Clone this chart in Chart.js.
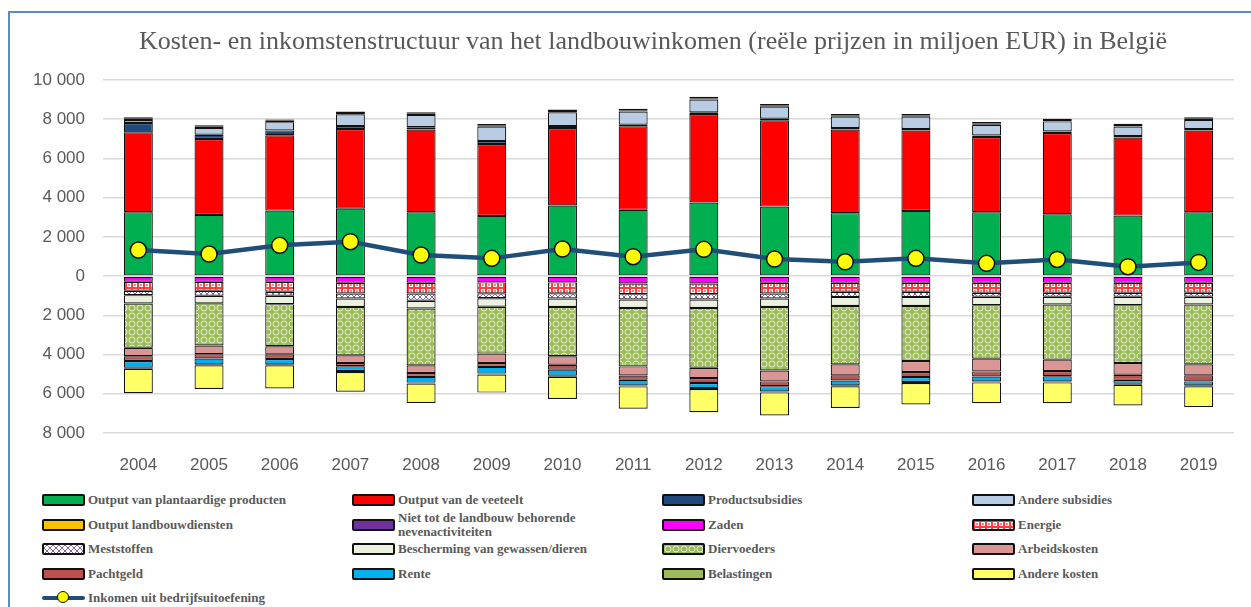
<!DOCTYPE html>
<html>
<head>
<meta charset="utf-8">
<script src="https://cdn.jsdelivr.net/npm/chart.js@4.4.1/dist/chart.umd.min.js"></script>
<style>
  html, body { margin: 0; padding: 0; background: #fff; overflow: hidden; }
  #frame { position: absolute; left: 8px; top: 11px; width: 1300px; height: 700px; border: 2px solid #5b8ac6; box-sizing: border-box; }
  #wrap { position: absolute; left: 0; top: 0; width: 1251px; height: 480px; }
  #legend { position: absolute; left: 42px; top: 488px; display: grid; grid-template-columns: 310px 310px 310px 310px; grid-auto-rows: 24.5px; align-items: center; font: bold 13px "Liberation Serif", "Times New Roman", serif; color: #595959; }
  .item { display: flex; align-items: center; }
  .sw { width: 43px; height: 12px; border: 2px solid #111; box-sizing: border-box; margin-right: 3px; flex: none; border-radius: 2px; }
  .txt { line-height: 14px; max-width: 250px; }
  .lsw { width: 43px; height: 14px; margin-right: 3px; flex: none; position: relative; }
  .lsw .ln { position: absolute; left: 0; right: 0; top: 5px; height: 4px; background: #1f4e79; border-radius: 2px; }
  .lsw .dot { position: absolute; left: 15px; top: 0; width: 10px; height: 10px; border: 1.5px solid #111; border-radius: 50%; background: #ffff00; }
</style>
</head>
<body>
<div id="frame"></div>
<div id="wrap"><canvas id="chart" width="1251" height="480"></canvas></div>
<div id="legend"></div>
<script>
const years = ['2004', '2005', '2006', '2007', '2008', '2009', '2010', '2011', '2012', '2013', '2014', '2015', '2016', '2017', '2018', '2019'];

// opbrengsten (boven nul)
const plantaardig = [3260, 3120, 3340, 3440, 3260, 3070, 3600, 3380, 3750, 3545, 3210, 3325, 3260, 3155, 3085, 3260];
const veeteelt = [4070, 3870, 3840, 4060, 4210, 3670, 3950, 4260, 4520, 4405, 4260, 4095, 3830, 4145, 3985, 4160];
const productsubsidies = [480, 220, 250, 150, 120, 150, 100, 80, 80, 80, 80, 80, 80, 80, 80, 80];
const andereSubsidies = [150, 340, 420, 600, 620, 730, 700, 670, 650, 610, 580, 630, 550, 510, 480, 460];
const landbouwdiensten = [70, 70, 70, 70, 70, 70, 70, 70, 70, 70, 70, 70, 70, 70, 70, 70];
const nevenactiviteiten = [70, 70, 70, 70, 70, 70, 70, 70, 70, 70, 70, 70, 70, 70, 70, 70];

// kosten (onder nul)
const zaden = [-290, -290, -290, -340, -340, -320, -320, -375, -375, -340, -340, -340, -340, -340, -340, -340];
const energie = [-460, -460, -510, -550, -550, -560, -560, -545, -545, -550, -460, -460, -510, -510, -510, -510];
const meststoffen = [-220, -250, -200, -250, -370, -250, -260, -275, -275, -250, -260, -260, -200, -200, -200, -200];
const bescherming = [-430, -390, -430, -430, -390, -430, -430, -425, -425, -430, -460, -460, -430, -400, -430, -400];
const diervoeders = [-2250, -2150, -2150, -2470, -2900, -2390, -2520, -2985, -3050, -3240, -2980, -2810, -2730, -2810, -2950, -3050];
const arbeidskosten = [-440, -440, -410, -390, -390, -480, -430, -460, -530, -560, -560, -560, -650, -580, -600, -560];
const pachtgeld = [-240, -220, -240, -170, -200, -200, -250, -220, -255, -240, -260, -260, -260, -270, -260, -310];
const rente = [-340, -300, -270, -240, -290, -340, -310, -290, -255, -270, -250, -250, -250, -260, -200, -200];
const belastingen = [-50, -50, -50, -50, -50, -50, -50, -50, -50, -50, -50, -50, -50, -50, -50, -50];
const andereKosten = [-1250, -1210, -1180, -1010, -990, -920, -1130, -1140, -1180, -1180, -1100, -1100, -1060, -1060, -1060, -1060];

// inkomen uit bedrijfsuitoefening
const inkomen = [1330, 1125, 1570, 1755, 1075, 905, 1380, 990, 1365, 870, 730, 905, 650, 850, 480, 700];

const yTicks = { min: -8000, max: 10000, step: 2000 };
const titel = 'Kosten- en inkomstenstructuur van het landbouwinkomen (reële prijzen in miljoen EUR) in België';

// kleine tegels voor de gearceerde reeksen
function makeTile(type) {
    const c = document.createElement('canvas');
    const g = c.getContext('2d');
    if (type === 'energie') {
        c.width = 6; c.height = 6;
        g.fillStyle = '#ff3c3c';
        g.fillRect(0, 0, 6, 6);
        g.fillStyle = '#ffffff';
        g.fillRect(1, 1, 4, 4);
        g.fillStyle = '#ff8080';
        g.fillRect(2, 2, 2, 2);
    } else if (type === 'meststoffen') {
        c.width = 6; c.height = 6;
        g.fillStyle = '#ffffff';
        g.fillRect(0, 0, 6, 6);
        g.strokeStyle = '#8064a2';
        g.lineWidth = 1;
        g.beginPath();
        g.moveTo(0, 3); g.lineTo(3, 0); g.lineTo(6, 3); g.lineTo(3, 6); g.closePath();
        g.stroke();
    } else {
        c.width = 8; c.height = 8;
        g.fillStyle = '#9bbb59';
        g.fillRect(0, 0, 8, 8);
        g.strokeStyle = 'rgba(255,255,255,0.75)';
        g.lineWidth = 1;
        g.beginPath();
        g.arc(4, 4, 3, 0, Math.PI * 2);
        g.stroke();
    }
    return c;
}

const ctx = document.getElementById('chart').getContext('2d');
const tiles = {
    energie: makeTile('energie'),
    meststoffen: makeTile('meststoffen'),
    diervoeders: makeTile('diervoeders')
};

const barSeries = [
    { label: 'Output van plantaardige producten', data: plantaardig, color: '#00b050' },
    { label: 'Output van de veeteelt', data: veeteelt, color: '#ff0000' },
    { label: 'Productsubsidies', data: productsubsidies, color: '#1f497d' },
    { label: 'Andere subsidies', data: andereSubsidies, color: '#b8cce4' },
    { label: 'Output landbouwdiensten', data: landbouwdiensten, color: '#ffc000' },
    { label: 'Niet tot de landbouw behorende nevenactiviteiten', data: nevenactiviteiten, color: '#7030a0' },
    { label: 'Zaden', data: zaden, color: '#ff00ff' },
    { label: 'Energie', data: energie, tile: 'energie' },
    { label: 'Meststoffen', data: meststoffen, tile: 'meststoffen' },
    { label: 'Bescherming van gewassen/dieren', data: bescherming, color: '#ebf1de' },
    { label: 'Diervoeders', data: diervoeders, tile: 'diervoeders' },
    { label: 'Arbeidskosten', data: arbeidskosten, color: '#da9694' },
    { label: 'Pachtgeld', data: pachtgeld, color: '#c0504d' },
    { label: 'Rente', data: rente, color: '#00b0f0' },
    { label: 'Belastingen', data: belastingen, color: '#9bbb59' },
    { label: 'Andere kosten', data: andereKosten, color: '#ffff66' }
];

const datasets = barSeries.map(s => ({
    type: 'bar',
    label: s.label,
    data: s.data,
    stack: 'structuur',
    order: 1,
    backgroundColor: s.tile ? ctx.createPattern(tiles[s.tile], 'repeat') : s.color,
    borderColor: '#111111',
    borderWidth: 1.2,
    borderSkipped: false,
    barPercentage: 0.41,
    categoryPercentage: 1
}));

datasets.push({
    type: 'line',
    label: 'Inkomen uit bedrijfsuitoefening',
    data: inkomen,
    stack: 'inkomen',
    order: 0,
    borderColor: '#1f4e79',
    borderWidth: 4.5,
    pointRadius: 8,
    pointBackgroundColor: '#ffff00',
    pointBorderColor: '#111111',
    pointBorderWidth: 1.5,
    tension: 0
});

function formatTick(value) {
    return String(Math.abs(value)).replace(/\B(?=(\d{3})+(?!\d))/g, ' ');
}

// titel boven de grafiek, iets rechts van het midden zoals in het origineel
const titlePlugin = {
    id: 'titelTekst',
    afterDraw: function (chart) {
        const c = chart.ctx;
        c.save();
        c.fillStyle = '#595959';
        c.font = '26px "Liberation Serif", "Times New Roman", serif';
        c.textAlign = 'center';
        c.textBaseline = 'middle';
        c.fillText(titel, 653, 42);
        c.restore();
    }
};

new Chart(ctx, {
    data: { labels: years, datasets: datasets },
    plugins: [titlePlugin],
    options: {
        responsive: false,
        animation: false,
        layout: { padding: { left: 0, right: 17, top: 80, bottom: 0 } },
        plugins: {
            legend: { display: false },
            tooltip: { enabled: false },
            title: { display: false }
        },
        scales: {
            x: {
                stacked: true,
                grid: { display: false },
                border: { display: false },
                ticks: { color: '#595959', font: { family: '"Liberation Sans", Arial, sans-serif', size: 17 }, padding: 14 },
                afterFit: function (scale) { scale.height = 47; }
            },
            y: {
                stacked: true,
                min: yTicks.min,
                max: yTicks.max,
                grid: { color: '#d9d9d9', lineWidth: 1.5, drawTicks: false },
                border: { display: false },
                ticks: {
                    stepSize: yTicks.step,
                    padding: 18,
                    color: '#595959',
                    font: { family: '"Liberation Sans", Arial, sans-serif', size: 17 },
                    callback: formatTick
                },
                afterFit: function (scale) { scale.width = 103; }
            }
        }
    }
});

// legenda in vier kolommen, zoals in het origineel
const legend = document.getElementById('legend');
barSeries.forEach(s => {
    const item = document.createElement('div');
    item.className = 'item';
    const sw = document.createElement('div');
    sw.className = 'sw';
    if (s.tile) {
        sw.style.backgroundImage = 'url(' + tiles[s.tile].toDataURL() + ')';
    } else {
        sw.style.background = s.color;
    }
    const txt = document.createElement('span');
    txt.className = 'txt';
    txt.textContent = s.label;
    item.appendChild(sw);
    item.appendChild(txt);
    legend.appendChild(item);
});
const lineItem = document.createElement('div');
lineItem.className = 'item';
lineItem.innerHTML = '<div class="lsw"><div class="ln"></div><div class="dot"></div></div>';
const lineTxt = document.createElement('span');
lineTxt.className = 'txt';
lineTxt.textContent = 'Inkomen uit bedrijfsuitoefening';
lineItem.appendChild(lineTxt);
legend.appendChild(lineItem);
</script>
</body>
</html>
